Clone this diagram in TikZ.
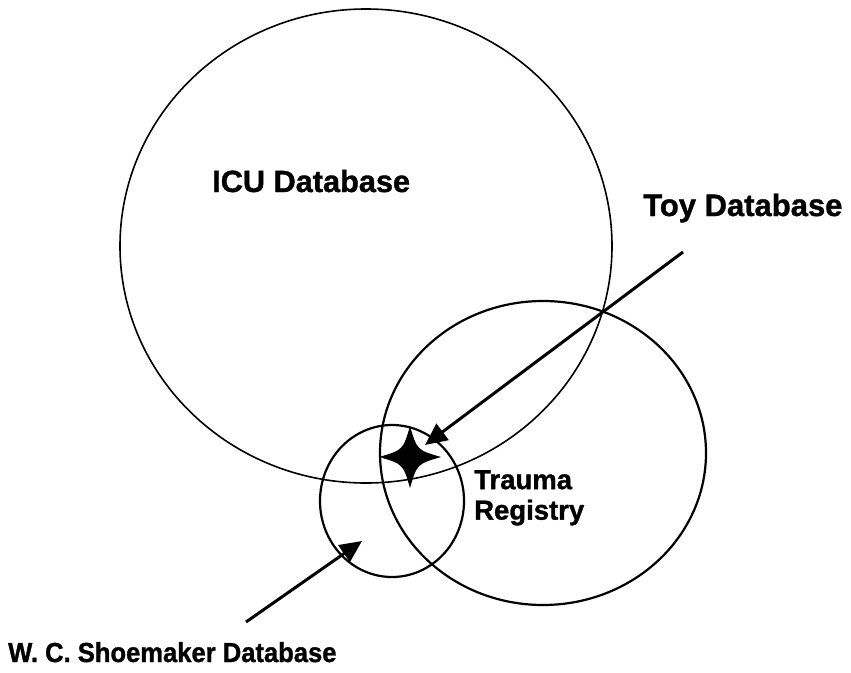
\documentclass[tikz,border=0pt]{standalone}
\usepackage{fontspec}
\setmainfont{Liberation Sans}[BoldFeatures={FakeBold=1.2}]
\usetikzlibrary{arrows.meta}

\begin{document}
\begin{tikzpicture}[x=1pt,y=-1pt,
    setline/.style={line width=2.2pt},
    pointer/.style={line width=3pt,-{Triangle[length=22pt,width=20pt]}},
    dblabel/.style={inner sep=0pt,font=\bfseries\fontsize{#1}{#1}\selectfont},
    dblabel/.default=30]
        \useasboundingbox (0,0) rectangle (851,672);
        \coordinate (icu) at (366,246);
        \coordinate (trauma) at (543,453);
        \coordinate (shoe) at (392,501);
        \coordinate (star) at (410,457);
        \draw[line width=1.6pt] (icu) ellipse [x radius=246, y radius=237];
        \draw[setline] (trauma) ellipse [x radius=163, y radius=152];
        \draw[setline] (shoe) ellipse [x radius=72, y radius=76];
        % four pointed star
        \fill[shift={(star)}] (0,-31) .. controls (7,-7) .. (31,0) .. controls (7,7) .. (0,31)
            .. controls (-7,7) .. (-31,0) .. controls (-7,-7) .. cycle;
        \node[dblabel=30.7,anchor=base west] (icutext) at (212,192) {ICU Database};
        \node[dblabel=31,anchor=base west] (toytext) at (643,216) {Toy Database};
        \node[dblabel=27.5,anchor=north west,align=left] (traumatext) at (474,470) {Trauma\\[3pt]Registry};
        \node[dblabel=27.5,anchor=base west,xscale=0.93,transform shape] (shoetext) at (8,662) {W. C. Shoemaker Database};
        \coordinate (toytail) at (683,252);
        \coordinate (toytip) at (425,445);
        \coordinate (shoetail) at (246,622);
        \coordinate (shoetip) at (362,541);
        \draw[pointer] (toytail) -- (toytip);
        \draw[pointer] (shoetail) -- (shoetip);
      \end{tikzpicture}
\end{document}
